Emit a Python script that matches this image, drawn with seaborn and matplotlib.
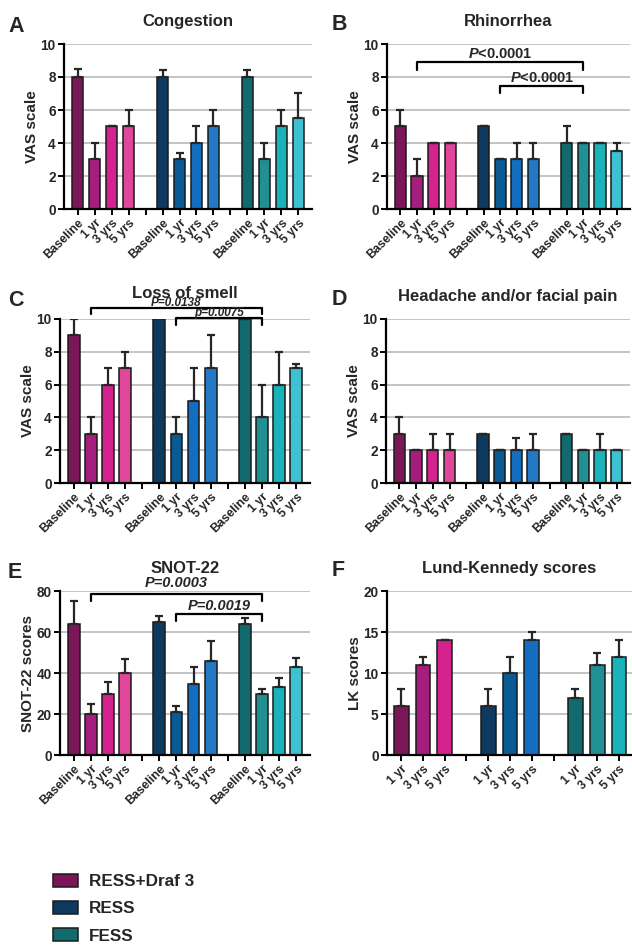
import numpy as np
import pandas as pd
import seaborn as sns
import matplotlib.pyplot as plt
from matplotlib.patches import Patch

sns.set_theme(style="ticks")
plt.rcParams['font.family'] = ['Liberation Sans', 'DejaVu Sans']
plt.rcParams['font.weight'] = 'bold'
plt.rcParams['axes.labelweight'] = 'bold'
plt.rcParams['axes.titleweight'] = 'bold'
plt.rcParams['mathtext.fontset'] = 'custom'
plt.rcParams['mathtext.bfit'] = 'Liberation Sans:italic:bold'

W, H = 632, 947

groups = ["RESS+Draf 3", "RESS", "FESS"]
times = ["Baseline", "1 yr", "3 yrs", "5 yrs"]
lk_times = ["1 yr", "3 yrs", "5 yrs"]

colors = {
    "RESS+Draf 3": ["#7B1659", "#A51E7D", "#D4238E", "#E0479A"],
    "RESS": ["#0F3A60", "#0A5A93", "#136EC0", "#2479C4"],
    "FESS": ["#116A6E", "#219092", "#1AB3B9", "#3CC2D0"],
}

# values per group in order RESS+Draf 3, RESS, FESS
congestion_mean = [8, 3, 5, 5, 8, 3, 4, 5, 8, 3, 5, 5.5]
congestion_err = [0.5, 1, 0, 1, 0.4, 0.4, 1, 1, 0.4, 1, 1, 1.5]

rhino_mean = [5, 2, 4, 4, 5, 3, 3, 3, 4, 4, 4, 3.5]
rhino_err = [1, 1, 0, 0, 0, 0, 1, 1, 1, 0, 0, 0.5]

smell_mean = [9, 3, 6, 7, 10, 3, 5, 7, 10, 4, 6, 7]
smell_err = [1, 1, 1, 1, 0, 1, 2, 2, 0, 2, 2, 0.25]

headache_mean = [3, 2, 2, 2, 3, 2, 2, 2, 3, 2, 2, 2]
headache_err = [1, 0, 1, 1, 0, 0, 0.75, 1, 0, 0, 1, 0]

snot_mean = [64, 20, 30, 40, 65, 21, 34.5, 46, 64, 30, 33, 43]
snot_err = [11, 5, 5.5, 7, 3, 3, 8.5, 9.5, 3, 2, 4.5, 4.5]

lk_mean = [6, 11, 14, 6, 10, 14, 7, 11, 12]
lk_err = [2, 1, 0, 2, 2, 1, 1, 1.5, 2]

# brackets: (from group, to group, time, line y, leg, text, text y, size)
rhino_brackets = [(0, 2, "1 yr", 8.9, 0.5, r"$\mathbfit{P}$<0.0001", 9.4, 10.5),
                  (1, 2, "1 yr", 7.47, 0.45, r"$\mathbfit{P}$<0.0001", 7.95, 10.5)]
smell_brackets = [(0, 2, "1 yr", 10.69, 0.4, "P=0.0138", 10.98, 8.5),
                  (1, 2, "1 yr", 10.06, 0.4, "p=0.0075", 10.38, 8.5)]
snot_brackets = [(0, 2, "1 yr", 78.4, 3.3, "P=0.0003", 84.0, 10.5),
                 (1, 2, "1 yr", 68.7, 3.3, "P=0.0019", 72.9, 10.5)]


def rect(l, t, r, b):
    return [l / W, 1 - b / H, (r - l) / W, (b - t) / H]


def draw_panel(ax, tlist, means, errs, ylim, yticks, ylabel, title, brackets=(),
               xl=(-0.8, 13.8), tpad=13):
    order, slots, palette = [], [], {}
    for gi, g in enumerate(groups):
        for ti, t in enumerate(tlist):
            s = g + "|" + t
            order.append(s)
            slots.append(s)
            palette[s] = colors[g][ti]
        if gi < len(groups) - 1:
            order.append("gap%d" % gi)
    df = pd.DataFrame({"slot": slots, "value": means})
    sns.barplot(data=df, x="slot", y="value", hue="slot", order=order, palette=palette,
                legend=False, width=0.68, edgecolor="#1a1a1a", linewidth=1.1,
                saturation=1, errorbar=None, ax=ax)
    xs = [order.index(s) for s in slots]
    ax.errorbar(xs, means, yerr=[np.zeros(len(means)), errs], fmt='none', ecolor='#262626',
                elinewidth=1.6, capsize=3, capthick=1.6, zorder=3)
    ax.set_xticks(range(len(order)))
    ax.set_xticklabels([("" if s.startswith("gap") else s.split("|")[1]) for s in order],
                       rotation=45, ha='right', va='top', rotation_mode='anchor', fontsize=8.8)
    ax.set_xlim(*xl)
    ax.set_ylim(*ylim)
    ax.set_yticks(yticks)
    ax.tick_params(axis='y', labelsize=9.8)
    ax.tick_params(length=4, width=1.4, color='black', pad=2)
    ax.yaxis.grid(True, color='#c4c4c4', lw=1.4)
    ax.set_axisbelow(True)
    sns.despine(ax=ax)
    for sp in ["left", "bottom"]:
        ax.spines[sp].set_linewidth(1.6)
        ax.spines[sp].set_color('black')
    ax.set_xlabel("")
    ax.set_ylabel(ylabel, fontsize=11, labelpad=1)
    ax.set_title(title, fontsize=12, pad=tpad)
    for g0, g1, t, y, leg, txt, ty, fs in brackets:
        x0 = order.index(groups[g0] + "|" + t)
        x1 = order.index(groups[g1] + "|" + t)
        ax.plot([x0, x0, x1, x1], [y - leg, y, y, y - leg], color='black', lw=1.6,
                clip_on=False, zorder=5)
        style = 'normal' if txt.startswith('$') else 'italic'
        ax.text((x0 + x1) / 2, ty, txt, ha='center', va='center', fontsize=fs,
                fontstyle=style, fontweight='bold', clip_on=False, zorder=6)


fig = plt.figure(figsize=(W / 100, H / 100), dpi=100)

axA = fig.add_axes(rect(64, 44, 312, 209))
draw_panel(axA, times, congestion_mean, congestion_err, (0, 10), [0, 2, 4, 6, 8, 10],
           "VAS scale", "Congestion")
axB = fig.add_axes(rect(387, 44, 630, 209))
draw_panel(axB, times, rhino_mean, rhino_err, (0, 10), [0, 2, 4, 6, 8, 10],
           "VAS scale", "Rhinorrhea", rhino_brackets)
axC = fig.add_axes(rect(60, 319, 310, 483))
draw_panel(axC, times, smell_mean, smell_err, (0, 10), [0, 2, 4, 6, 8, 10],
           "VAS scale", "Loss of smell", smell_brackets, tpad=15)
axD = fig.add_axes(rect(386, 319, 630, 483))
draw_panel(axD, times, headache_mean, headache_err, (0, 10), [0, 2, 4, 6, 8, 10],
           "VAS scale", "Headache and/or facial pain")
axE = fig.add_axes(rect(60, 591, 310, 755))
draw_panel(axE, times, snot_mean, snot_err, (0, 80), [0, 20, 40, 60, 80],
           "SNOT-22 scores", "SNOT-22", snot_brackets)
axF = fig.add_axes(rect(387, 591, 632, 755))
draw_panel(axF, lk_times, lk_mean, lk_err, (0, 20), [0, 5, 10, 15, 20],
           "LK scores", "Lund-Kennedy scores", xl=(-0.65, 10.6))

for letter, x, y in [("A", 8, 26), ("B", 332, 24), ("C", 8, 300),
                     ("D", 332, 299), ("E", 8, 572), ("F", 332, 570)]:
    fig.text(x / W, 1 - y / H, letter, fontsize=15.5, fontweight='bold', ha='left', va='center')

handles = [Patch(facecolor=colors[g][0], edgecolor='#1a1a1a', linewidth=1.1) for g in groups]
fig.legend(handles, groups, loc='upper left', bbox_to_anchor=(53 / W, 1 - 874 / H),
           frameon=False, fontsize=12.3, handlelength=1.45, handleheight=0.75,
           labelspacing=0.7, handletextpad=0.65, borderpad=0, borderaxespad=0)

fig.savefig("out.png", dpi=100)
